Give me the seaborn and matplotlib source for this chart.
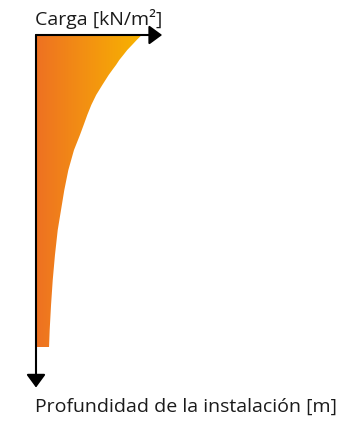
import numpy as np
import matplotlib.pyplot as plt
import seaborn as sns
from matplotlib.colors import LinearSegmentedColormap

# load distribution over installation depth
depth = [0, 0.16, 0.32, 0.48, 0.64, 0.8, 0.96, 1.12, 1.28, 1.44, 1.6, 1.92, 2.24,
         2.56, 2.88, 3.21, 3.69, 4.33, 4.97, 5.61, 6.25, 7.05, 7.85, 8.65, 9.46, 10]
load = [99.7, 95.0, 90.6, 86.1, 82.4, 78.6, 75.5, 72.0, 68.6, 65.6, 62.6, 56.8, 52.2,
        48.4, 45.0, 41.4, 35.8, 30.5, 26.7, 23.6, 20.5, 17.9, 15.8, 14.2, 12.9, 12.3]

x_label = 'Carga [kN/m²]'
y_label = 'Profundidad de la instalación [m]'

sns.set_style('white')
plt.rcParams['font.family'] = ['Open Sans', 'DejaVu Sans']

fig = plt.figure(figsize=(3.5, 4.22), dpi=100)
ax = fig.add_axes([0, 0, 1, 1])
ax.set_xlim(-36 / 1.06, (350 - 36) / 1.06)
ax.set_ylim((422 - 35) / 31.2, -35 / 31.2)
ax.axis('off')

# shape of the load, filled with a left-to-right gradient
poly = ax.fill_betweenx(depth, 0, load, color='none', lw=0)
cmap = LinearSegmentedColormap.from_list('load', ['#EE7122', '#F8B400'])
grad = np.linspace(0, 1, 256).reshape(1, -1)
img = ax.imshow(grad, cmap=cmap, aspect='auto', extent=[0, max(load), max(depth), 0],
                interpolation='bilinear', zorder=1)
img.set_clip_path(poly.get_paths()[0], transform=ax.transData)

# axes arrows
style = '-|>,head_length=%.1f,head_width=%.1f' % (11 * 0.72, 8 * 0.72)
ax.annotate('', xy=(119, 0), xytext=(0, 0),
            arrowprops=dict(arrowstyle=style, color='black', lw=1.5,
                            mutation_scale=1, shrinkA=0, shrinkB=0), zorder=3)
ax.annotate('', xy=(0, 11.3), xytext=(0, 0),
            arrowprops=dict(arrowstyle=style, color='black', lw=1.5,
                            mutation_scale=1, shrinkA=0, shrinkB=0), zorder=3)

ax.text(-1, -0.32, x_label, fontsize=14, ha='left', va='baseline', color='#1a1a1a')
ax.text(-1, 12.08, y_label, fontsize=14, ha='left', va='baseline', color='#1a1a1a')

fig.savefig('out.png', dpi=100)
